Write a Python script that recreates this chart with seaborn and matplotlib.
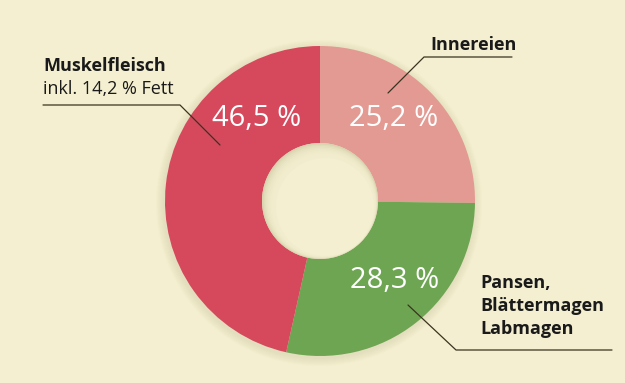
import matplotlib
matplotlib.use('Agg')
import matplotlib.pyplot as plt
import seaborn as sns
from matplotlib.patches import Circle

# Anteile am Schlachtkörper, im Uhrzeigersinn ab 12 Uhr
categories = ['Innereien', 'Pansen, Blättermagen Labmagen', 'Muskelfleisch']
values = [25.2, 28.3, 46.5]
value_labels = ['25,2 %', '28,3 %', '46,5 %']
colors = ['#e39a92', '#6ea552', '#d6495d']

sns.set_theme(style='white')
plt.rcParams['font.family'] = ['Open Sans', 'DejaVu Sans']

bg = '#f3efd0'
fig = plt.figure(figsize=(6.25, 3.83), dpi=100, facecolor=bg)
ax = fig.add_axes([0, 0, 1, 1])
ax.set_facecolor(bg)

cx, cy, r_out, r_in = 320, 201, 155, 58

# weicher Schatten
for i in range(8):
    ax.add_patch(Circle((cx - 1, cy + 2), r_out + 8 - i, color='#cfc9a4', alpha=0.05, lw=0, zorder=1))

# y-Achse ist umgedreht: startangle=-90 liegt oben, counterclock läuft am Bild im Uhrzeigersinn
wedges, _ = ax.pie(values, colors=colors, startangle=-90, counterclock=True,
                   center=(cx, cy), radius=r_out, frame=True,
                   wedgeprops=dict(width=r_out - r_in, linewidth=0, zorder=2))
ax.set_xlim(0, 625)
ax.set_ylim(383, 0)
ax.set_aspect('equal')
ax.axis('off')

# Schatten im Loch, weich nach innen auslaufend
ax.add_patch(Circle((cx, cy), r_in, color='#d9d3af', lw=0, zorder=3))
for i in range(1, 9):
    ax.add_patch(Circle((cx + 0.5 * i, cy + 0.6 * i), r_in - 0.9 * i, color=bg, alpha=0.3, lw=0, zorder=3))
ax.add_patch(Circle((cx + 5, cy + 6), r_in - 9, color=bg, lw=0, zorder=4))

# Prozentwerte
pct_pos = [(394, 118), (395, 280), (257, 118)]
for (x, y), t in zip(pct_pos, value_labels):
    ax.text(x, y, t, color='white', fontsize=21, ha='center', va='center', zorder=5)

# Beschriftungen mit Linien
line_kw = dict(color='#3a3320', lw=0.9, zorder=6)
ax.plot([43, 180, 220], [105, 105, 145], **line_kw)
ax.text(43, 66, 'Muskelfleisch', fontsize=13, fontweight='bold', color='#1a1a1a', va='center')
ax.text(43, 89, 'inkl. 14,2 % Fett', fontsize=13, color='#1a1a1a', va='center')

ax.plot([512, 424, 388], [57, 57, 93], **line_kw)
ax.text(430, 45, 'Innereien', fontsize=13, fontweight='bold', color='#1a1a1a', va='center')

ax.plot([612, 456, 408], [350, 350, 305], **line_kw)
ax.text(480, 283, 'Pansen,', fontsize=13, fontweight='bold', color='#1a1a1a', va='center')
ax.text(480, 306, 'Blättermagen', fontsize=13, fontweight='bold', color='#1a1a1a', va='center')
ax.text(480, 329, 'Labmagen', fontsize=13, fontweight='bold', color='#1a1a1a', va='center')

fig.savefig('out.png', dpi=100, facecolor=bg)
